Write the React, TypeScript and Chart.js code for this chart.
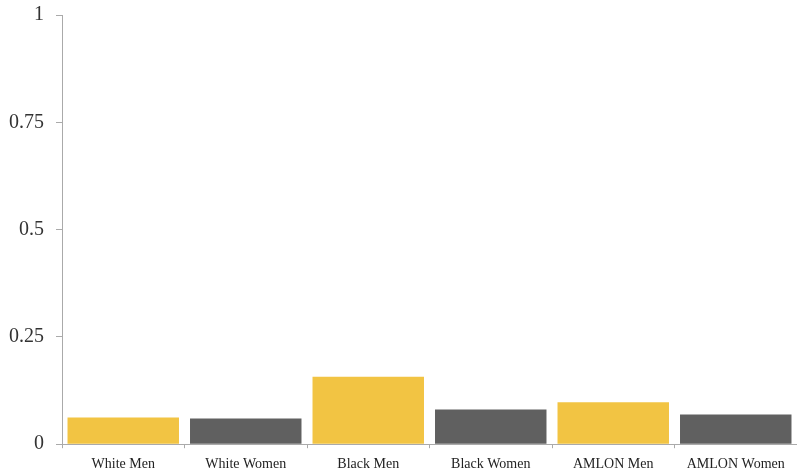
import React, { useEffect, useRef } from "react";
import { Chart, registerables } from "chart.js";

Chart.register(...registerables);

const categories = ["White Men", "White Women", "Black Men", "Black Women", "AMLON Men", "AMLON Women"];
const values = [0.062, 0.06, 0.157, 0.081, 0.098, 0.069];
const barColors = ["#F2C443", "#606060", "#F2C443", "#606060", "#F2C443", "#606060"];
const yTicks = [0, 0.25, 0.5, 0.75, 1];

export default function App() {
  const ref = useRef<HTMLCanvasElement | null>(null);
  useEffect(() => {
    document.body.style.margin = "0";
    const chart = new Chart(ref.current!, {
      type: "bar",
      data: {
        labels: categories,
        datasets: [
          {
            data: values,
            backgroundColor: barColors,
            borderWidth: 0,
            categoryPercentage: 0.91,
            barPercentage: 1,
          },
        ],
      },
      options: {
        animation: false,
        responsive: false,
        maintainAspectRatio: false,
        layout: { padding: { top: 1, right: 0, bottom: 0, left: 0 } },
        plugins: { legend: { display: false }, tooltip: { enabled: false } },
        scales: {
          x: {
            grid: { drawOnChartArea: false, color: "#aaaaaa", tickLength: 4 },
            border: { color: "#aaaaaa", width: 1 },
            ticks: { color: "#222", font: { family: "Liberation Serif", size: 14 }, padding: 8, maxRotation: 0 },
          },
          y: {
            min: 0,
            max: 1,
            afterBuildTicks: (axis: any) => {
              axis.ticks = yTicks.map((v) => ({ value: v }));
            },
            grid: { drawOnChartArea: false, color: "#aaaaaa", tickLength: 6 },
            border: { color: "#aaaaaa", width: 1 },
            ticks: {
              color: "#333",
              font: { family: "Liberation Serif", size: 20 },
              padding: 12,
              callback: (v: any) => String(v),
            },
          },
        },
      },
    });
    return () => chart.destroy();
  }, []);
  return (
    <div style={{ position: "absolute", left: 0, top: 0, width: 797, height: 475, overflow: "hidden" }}>
      <canvas ref={ref} width={800} height={490} style={{ position: "absolute", left: -3, top: -9 }} />
    </div>
  );
}
